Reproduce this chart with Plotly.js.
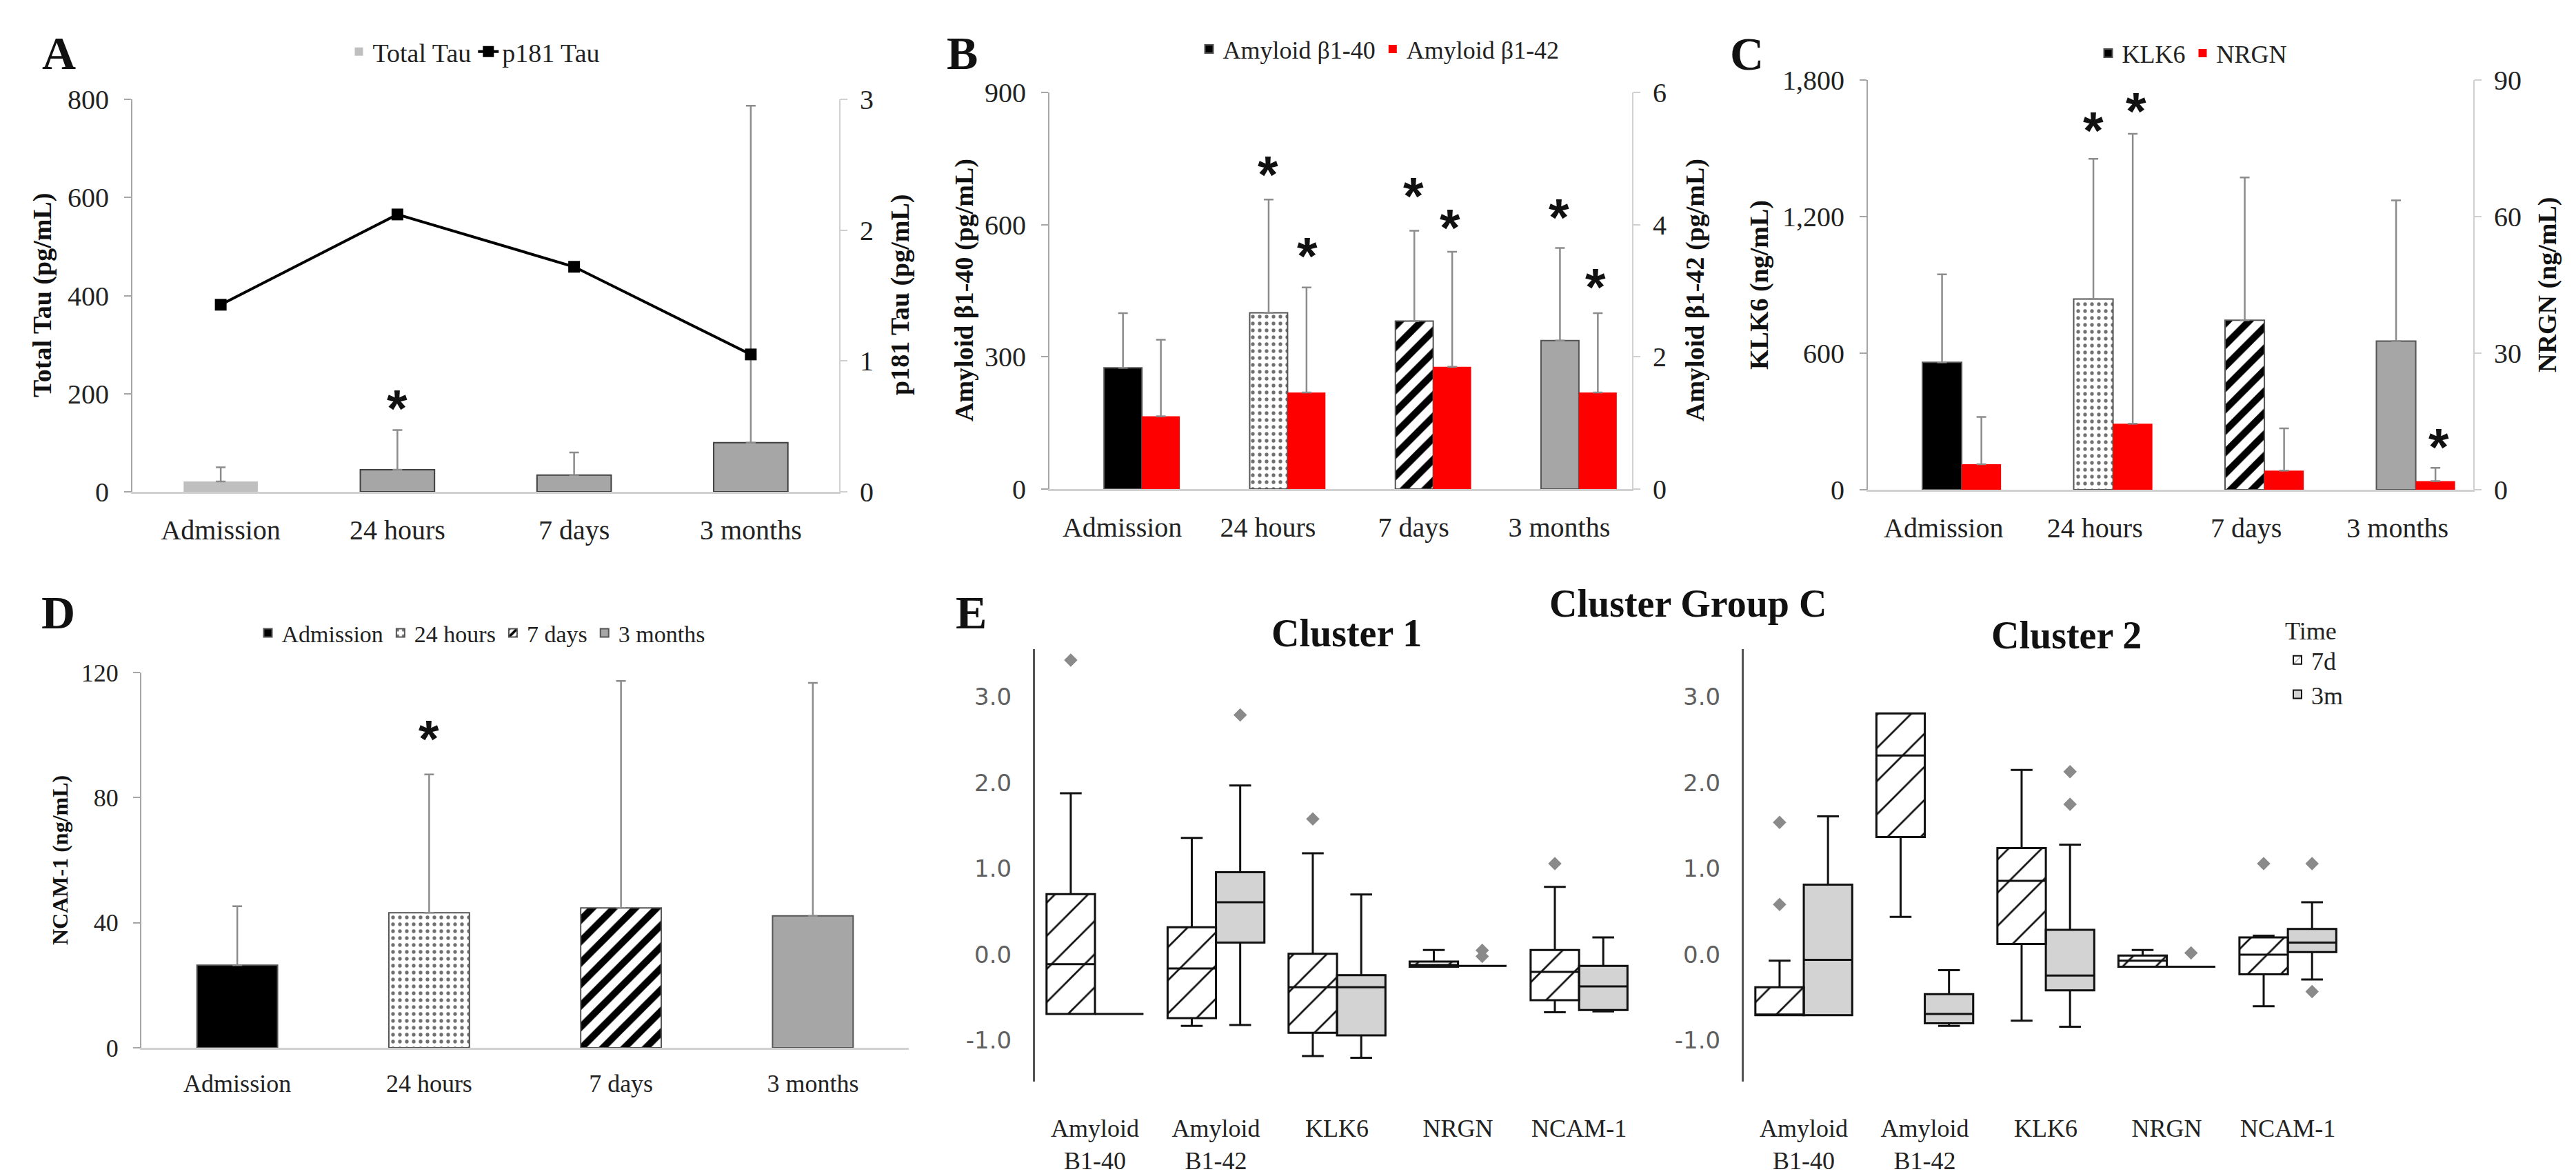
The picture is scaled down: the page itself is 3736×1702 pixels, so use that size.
<!DOCTYPE html>
<html>
<head>
<meta charset="utf-8">
<script src="https://cdn.plot.ly/plotly-3.0.1.min.js"></script>
<style>
  body { margin: 0; background: #fff; }
  #plot { width: 3736px; height: 1702px; }
</style>
</head>
<body>
<div id="plot"></div>
<script>
// ---- data ----
const timePoints = ['Admission', '24 hours', '7 days', '3 months'];

// A: total tau (left, pg/mL) and p181 tau (right, pg/mL)
const totalTau = [21, 45, 34, 100];
const totalTauErr = [29, 81, 46, 687];
const p181Tau = [1.43, 2.12, 1.72, 1.05];

// B: amyloid b1-40 (left) and b1-42 (right)
const ab40 = [275, 400, 381, 337];
const ab40Err = [124, 257, 205, 210];
const ab42 = [1.10, 1.46, 1.85, 1.46];
const ab42Err = [1.16, 1.59, 1.74, 1.20];

// C: KLK6 (left) and NRGN (right)
const klk6 = [560, 838, 745, 653];
const klk6Err = [386, 616, 627, 618];
const nrgn = [5.6, 14.5, 4.2, 1.9];
const nrgnErr = [10.4, 63.7, 9.3, 2.9];

// D: NCAM-1
const ncam = [26.4, 43.2, 44.7, 42.2];
const ncamErr = [18.9, 44.2, 72.6, 74.5];

// significance stars: category index (with bar offset) and height in left-axis units
const starsA = { x: [1], y: [196] };
const starsB = { x: [1, 1.27, 2, 2.25, 3, 3.25], y: [742, 558, 694, 622, 646, 487] };
const starsC = { x: [0.99, 1.27, 3.27], y: [1634, 1720, 243] };
const starsD = { x: [1], y: [103] };

// E: box plots, cluster group C
const markers = ['Amyloid<br>B1-40', 'Amyloid<br>B1-42', 'KLK6', 'NRGN', 'NCAM-1'];
const zTickVals = [-1, 0, 1, 2, 3];
const zTickText = ['-1.0', '0.0', '1.0', '2.0', '3.0'];

const c1d7 = { q1: [-0.69, -0.74, -0.91, -0.14, -0.53], med: [-0.11, -0.16, -0.38, -0.12, -0.20],
               q3: [0.705, 0.32, 0.01, -0.08, 0.055], lo: [-0.69, -0.83, -1.18, -0.14, -0.67],
               hi: [1.88, 1.36, 1.18, 0.055, 0.79] };
const c1m3 = { q1: [-0.69, 0.14, -0.94, -0.13, -0.645], med: [-0.69, 0.61, -0.38, -0.13, -0.37],
               q3: [-0.69, 0.96, -0.24, -0.13, -0.13], lo: [-0.69, -0.82, -1.20, -0.13, -0.66],
               hi: [-0.69, 1.97, 0.70, -0.13, 0.20] };
const c2d7 = { q1: [-0.705, 1.37, 0.124, -0.14, -0.23], med: [-0.705, 2.32, 0.86, -0.07, 0.0],
               q3: [-0.38, 2.81, 1.24, -0.01, 0.20], lo: [-0.705, 0.44, -0.77, -0.14, -0.60],
               hi: [-0.07, 2.81, 2.15, 0.055, 0.22] };
const c2m3 = { q1: [-0.705, -0.80, -0.415, -0.14, 0.03], med: [-0.06, -0.69, -0.244, -0.14, 0.14],
               q3: [0.816, -0.46, 0.29, -0.14, 0.30], lo: [-0.705, -0.83, -0.84, -0.14, -0.29],
               hi: [1.61, -0.18, 1.28, -0.14, 0.61] };
const c1OutX7d = [0, 2, 4], c1OutY7d = [3.43, 1.58, 1.06];
const c1OutX3m = [1, 3, 3], c1OutY3m = [2.79, 0.05, -0.02];
const c2OutX7d = [0, 0, 4], c2OutY7d = [1.54, 0.585, 1.06];
const c2OutX3m = [2, 2, 3, 4, 4], c2OutY3m = [2.13, 1.75, 0.02, 1.06, -0.43];

// ---- helpers ----
const W = 3736, H = 1702;
const px = x => x / W;
const py = y => 1 - y / H;
const SERIF = 'Liberation Serif';

function upErr(arr) {
    return { type: 'data', symmetric: false, array: arr, arrayminus: arr.map(() => 0),
             color: '#8c8c8c', thickness: 2.5, width: 7 };
}

// per-time-point bar looks (black, dotted, striped, grey)
const tpColor = ['black', 'white', 'white', '#a6a6a6'];
const tpShape = ['', '.', '/', ''];
const tpFg = ['black', '#707070', 'black', 'black'];
const tpSize = [10, 10, 22, 10];
const tpSolid = [0.3, 0.22, 0.45, 0.3];

function tpMarker(i) {
    return { color: tpColor[i],
             pattern: { shape: tpShape[i], fgcolor: tpFg[i], bgcolor: tpColor[i],
                        size: tpSize[i], solidity: tpSolid[i] },
             line: { color: '#555555', width: 2 } };
}

let traces = [];

// one bar trace per time point (patterns differ per time point)
function timeBars(name, vals, errs, xa, ya, width, offset, leg, legendAll) {
    timePoints.forEach((tp, i) => {
        traces.push({
            type: 'bar', name: legendAll ? tp : name, x: [tp], y: [vals[i]], xaxis: xa, yaxis: ya,
            width: width, offset: offset, marker: tpMarker(i), error_y: upErr([errs[i]]),
            legend: leg, showlegend: legendAll || i === 0
        });
    });
}

// A
traces.push({
    type: 'bar', name: 'Total Tau', x: timePoints, y: totalTau, xaxis: 'x', yaxis: 'y',
    width: 0.42, offset: -0.21,
    marker: { color: ['#bfbfbf', '#a6a6a6', '#a6a6a6', '#a6a6a6'],
              line: { color: ['rgba(0,0,0,0)', '#404040', '#404040', '#404040'], width: 2 } },
    error_y: upErr(totalTauErr), legend: 'legend'
});
traces.push({
    type: 'scatter', mode: 'lines+markers', name: 'p181 Tau', x: timePoints, y: p181Tau,
    xaxis: 'x', yaxis: 'y2', line: { color: 'black', width: 4 },
    marker: { symbol: 'square', size: 17, color: 'black' }, legend: 'legend'
});

// B
timeBars('Amyloid β1-40', ab40, ab40Err, 'x2', 'y3', 0.26, -0.125, 'legend2', false);
traces.push({
    type: 'bar', name: 'Amyloid β1-42', x: timePoints, y: ab42, xaxis: 'x2', yaxis: 'y4',
    width: 0.26, offset: 0.135, marker: { color: 'red' }, error_y: upErr(ab42Err), legend: 'legend2'
});

// C
timeBars('KLK6', klk6, klk6Err, 'x3', 'y5', 0.26, -0.14, 'legend3', false);
traces.push({
    type: 'bar', name: 'NRGN', x: timePoints, y: nrgn, xaxis: 'x3', yaxis: 'y6',
    width: 0.26, offset: 0.12, marker: { color: 'red' }, error_y: upErr(nrgnErr), legend: 'legend3'
});

// D
timeBars('', ncam, ncamErr, 'x4', 'y7', 0.42, -0.21, 'legend4', true);

// E: hatched/grey body as a bar, outline + whiskers as a precomputed box
function clusterTraces(st, shift, isHatch, xa, ya, showLeg, outX, outY) {
    let pos = markers.map((_, i) => i + shift);
    traces.push({
        type: 'bar', name: isHatch ? '7d' : '3m', x: pos, base: st.q1,
        y: st.q3.map((v, i) => v - st.q1[i]), width: 0.4, offset: -0.2,
        xaxis: xa, yaxis: ya, legend: 'legend5', showlegend: showLeg,
        marker: { color: isHatch ? 'white' : '#d3d3d3',
                  pattern: { shape: isHatch ? '/' : '', fgcolor: '#111', bgcolor: 'white', size: 34, solidity: 0.08 },
                  line: { color: '#111', width: 2 } },
        hoverinfo: 'skip'
    });
    traces.push({
        type: 'box', x: pos, q1: st.q1, median: st.med, q3: st.q3,
        lowerfence: st.lo, upperfence: st.hi, width: 0.4, whiskerwidth: 0.45,
        fillcolor: 'rgba(0,0,0,0)', line: { color: '#111', width: 3 },
        boxpoints: false, xaxis: xa, yaxis: ya, showlegend: false, hoverinfo: 'skip'
    });
    traces.push({
        type: 'scatter', mode: 'markers', x: outX.map(v => v + shift), y: outY,
        xaxis: xa, yaxis: ya, showlegend: false, hoverinfo: 'skip',
        marker: { symbol: 'diamond', size: 15, color: '#8a8a8a' }
    });
}
clusterTraces(c1d7, -0.2, true, 'x5', 'y8', true, c1OutX7d, c1OutY7d);
clusterTraces(c1m3, 0.2, false, 'x5', 'y8', true, c1OutX3m, c1OutY3m);
clusterTraces(c2d7, -0.2, true, 'x6', 'y9', false, c2OutX7d, c2OutY7d);
clusterTraces(c2m3, 0.2, false, 'x6', 'y9', false, c2OutX3m, c2OutY3m);

// ---- axes ----
function catAxis(x0, x1, anchor, size) {
    return { domain: [px(x0), px(x1)], anchor: anchor, type: 'category', categoryarray: timePoints,
             range: [-0.5, 3.5], showline: true, linecolor: '#d0d0d0', linewidth: 3,
             ticks: 'outside', ticklen: 18, tickcolor: 'rgba(0,0,0,0)', showgrid: false, zeroline: false,
             tickfont: { family: SERIF, size: size, color: '#222' } };
}
function valAxis(yTop, yBot, anchor, range, dtick, fmt, size) {
    return { domain: [py(yBot), py(yTop)], anchor: anchor, range: range, dtick: dtick, tick0: 0,
             tickformat: fmt, showline: true, linecolor: '#a6a6a6', linewidth: 2,
             ticks: 'outside', ticklen: 10, tickwidth: 2, tickcolor: '#a6a6a6',
             showgrid: false, zeroline: false, ticklabelstandoff: 14,
             tickfont: { family: SERIF, size: size, color: '#222' } };
}
function rightAxis(over, anchor, range, dtick, size) {
    return { overlaying: over, side: 'right', anchor: anchor, range: range, dtick: dtick, tick0: 0,
             showline: true, linecolor: '#d0d0d0', linewidth: 2, ticks: 'outside', ticklen: 10,
             tickwidth: 2, tickcolor: '#d0d0d0', showgrid: false, zeroline: false, ticklabelstandoff: 10,
             tickfont: { family: SERIF, size: size, color: '#222' } };
}
function zAxisX(x0, x1, anchor) {
    return { domain: [px(x0), px(x1)], anchor: anchor, range: [-0.496, 4.74], tickvals: [0, 1, 2, 3, 4],
             ticktext: markers, showline: false, showgrid: false, zeroline: false,
             ticks: 'outside', ticklen: 36, tickcolor: 'rgba(0,0,0,0)',
             tickfont: { family: SERIF, size: 36, color: '#222' } };
}
function zAxisY(anchor) {
    return { domain: [py(1568), py(941)], anchor: anchor, range: [-1.478, 3.558],
             tickvals: zTickVals, ticktext: zTickText, showline: true, linecolor: '#555', linewidth: 3,
             showgrid: false, zeroline: false, ticks: 'outside', ticklen: 24, tickcolor: 'rgba(0,0,0,0)',
             tickfont: { family: 'DejaVu Sans', size: 34, color: '#606060' } };
}

// ---- text annotations ----
let annotations = [];
function addText(x, y, text, size, opts) {
    annotations.push(Object.assign({ xref: 'paper', yref: 'paper', x: px(x), y: py(y), text: text,
        showarrow: false, xanchor: 'center', yanchor: 'middle',
        font: { family: SERIF, size: size, color: '#111' } }, opts || {}));
}
// panel letters and titles
addText(85, 77, '<b>A</b>', 68);
addText(1395, 77, '<b>B</b>', 68);
addText(2533, 78, '<b>C</b>', 68);
addText(84, 888, '<b>D</b>', 68);
addText(1408, 888, '<b>E</b>', 68);
addText(2448, 875, '<b>Cluster Group C</b>', 56);
addText(1953, 918, '<b>Cluster 1</b>', 56);
addText(2997, 921, '<b>Cluster 2</b>', 56);
// axis titles
addText(62, 428, '<b>Total Tau (pg/mL)</b>', 38, { textangle: -90 });
addText(1306, 428, '<b>p181 Tau (pg/mL)</b>', 38, { textangle: -90 });
addText(1399, 421, '<b>Amyloid β1-40 (pg/mL)</b>', 38, { textangle: -90 });
addText(2459, 421, '<b>Amyloid β1-42 (pg/mL)</b>', 38, { textangle: -90 });
addText(2551, 413, '<b>KLK6 (ng/mL)</b>', 38, { textangle: -90 });
addText(3694, 413, '<b>NRGN (ng/mL)</b>', 38, { textangle: -90 });
addText(87, 1247, '<b>NCAM-1 (ng/mL)</b>', 32, { textangle: -90 });

function addStars(st, xa, ya) {
    st.x.forEach((x, i) => {
        annotations.push({ xref: xa, yref: ya, x: x, y: st.y[i], text: '<b>*</b>', showarrow: false,
            xanchor: 'center', yanchor: 'middle', yshift: -18,
            font: { family: 'Liberation Sans', size: 76, color: '#111' } });
    });
}
addStars(starsA, 'x', 'y');
addStars(starsB, 'x2', 'y3');
addStars(starsC, 'x3', 'y5');
addStars(starsD, 'x4', 'y7');

function legendAt(x, y, size, extra) {
    return Object.assign({ x: px(x), y: py(y), xanchor: 'center', yanchor: 'middle', orientation: 'h',
        bgcolor: 'rgba(0,0,0,0)', font: { family: SERIF, size: size, color: '#222' } }, extra || {});
}

const layout = {
    width: W, height: H, margin: { l: 0, r: 0, t: 0, b: 0 },
    paper_bgcolor: 'white', plot_bgcolor: 'white',
    barmode: 'overlay', boxmode: 'overlay', showlegend: true,
    font: { family: SERIF, color: '#222' },
    xaxis: catAxis(192, 1217, 'y', 40),
    yaxis: valAxis(144, 713, 'x', [0, 800], 200, '', 40),
    yaxis2: rightAxis('y', 'x', [0, 3], 1, 40),
    xaxis2: catAxis(1522, 2367, 'y3', 40),
    yaxis3: valAxis(134, 709, 'x2', [0, 900], 300, '', 40),
    yaxis4: rightAxis('y3', 'x2', [0, 6], 2, 40),
    xaxis3: catAxis(2709, 3587, 'y5', 40),
    yaxis5: valAxis(116, 710, 'x3', [0, 1800], 600, ',', 40),
    yaxis6: rightAxis('y5', 'x3', [0, 90], 30, 40),
    xaxis4: catAxis(205, 1318, 'y7', 36),
    yaxis7: valAxis(975, 1519, 'x4', [0, 120], 40, '', 36),
    xaxis5: zAxisX(1501, 2420, 'y8'),
    yaxis8: zAxisY('x5'),
    xaxis6: zAxisX(2529, 3448, 'y9'),
    yaxis9: zAxisY('x6'),
    legend: legendAt(688, 75, 38),
    legend2: legendAt(2000, 71, 36),
    legend3: legendAt(3180, 77, 36),
    legend4: legendAt(698, 918, 34),
    legend5: legendAt(3312, 880, 36, { xanchor: 'left', yanchor: 'top', orientation: 'v',
        title: { text: 'Time', font: { family: SERIF, size: 36, color: '#222' } } }),
    annotations: annotations
};

Plotly.newPlot('plot', traces, layout, { staticPlot: true });
</script>
</body>
</html>
